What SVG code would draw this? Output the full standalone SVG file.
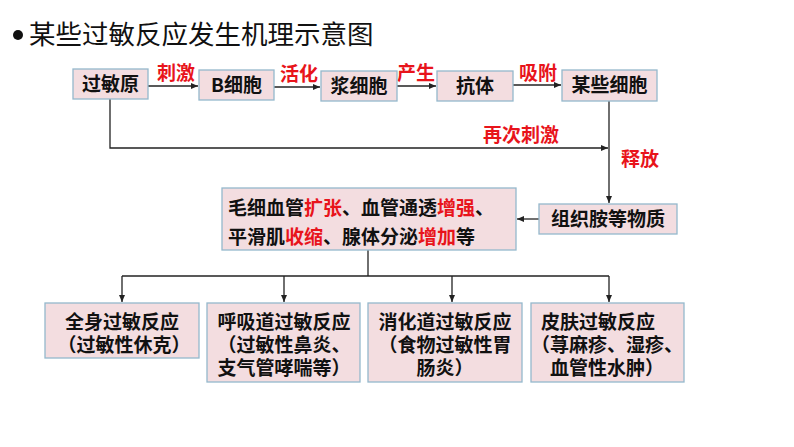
<svg xmlns="http://www.w3.org/2000/svg" width="794" height="447" viewBox="0 0 794 447">
<style>
.box{fill:#f3dde0;stroke:#94b8cc;stroke-width:1.3}
.t{font-family:"Noto Sans CJK SC","Noto Sans",sans-serif;font-weight:bold;font-size:19px;fill:#111}
.r{font-family:"Noto Sans CJK SC","Noto Sans",sans-serif;font-weight:bold;font-size:19px;fill:#e8141b}
.red{fill:#e8141b}
.ln{fill:none;stroke:#222;stroke-width:1.3}
</style>
<defs>
<marker id="ah" markerWidth="8" markerHeight="8" refX="7" refY="4" orient="auto" markerUnits="userSpaceOnUse">
<path d="M0,1 L7,4 L0,7 z" fill="#222"/>
</marker>
</defs>
<rect width="794" height="447" fill="#fff"/>
<g id="title">
<circle cx="18" cy="35" r="5" fill="#111"/>
<text x="29" y="44" font-family="'Noto Sans CJK SC',sans-serif" font-size="26.5" fill="#111">某些过敏反应发生机理示意图</text>
</g>
<g id="connectors">
<line class="ln" x1="148" y1="86" x2="198" y2="86" marker-end="url(#ah)"/>
<line class="ln" x1="274" y1="87" x2="320" y2="87" marker-end="url(#ah)"/>
<line class="ln" x1="397" y1="86" x2="436" y2="86" marker-end="url(#ah)"/>
<line class="ln" x1="513" y1="85" x2="561" y2="85" marker-end="url(#ah)"/>
<polyline class="ln" points="110,99 110,148 608,148" marker-end="url(#ah)"/>
<line class="ln" x1="609" y1="101" x2="609" y2="203" marker-end="url(#ah)"/>
<line class="ln" x1="539" y1="219" x2="517" y2="219" marker-end="url(#ah)"/>
<line class="ln" x1="368" y1="250" x2="368" y2="276"/>
<line class="ln" x1="122" y1="276" x2="609" y2="276"/>
<line class="ln" x1="122" y1="276" x2="122" y2="302" marker-end="url(#ah)"/>
<line class="ln" x1="284" y1="276" x2="284" y2="302" marker-end="url(#ah)"/>
<line class="ln" x1="452" y1="276" x2="452" y2="302" marker-end="url(#ah)"/>
<line class="ln" x1="609" y1="276" x2="609" y2="302" marker-end="url(#ah)"/>
<text class="r" x="157" y="80">刺激</text>
<text class="r" x="280" y="81">活化</text>
<text class="r" x="397" y="80">产生</text>
<text class="r" x="519" y="80">吸附</text>
<text class="r" x="483" y="142">再次刺激</text>
<text class="r" x="621" y="166">释放</text>
</g>
<g id="n1"><rect class="box" x="73" y="69" width="75" height="30"/><text class="t" x="110.5" y="91" text-anchor="middle">过敏原</text></g>
<g id="n2"><rect class="box" x="199" y="70" width="75" height="30"/><text class="t" x="236.5" y="92" text-anchor="middle">B细胞</text></g>
<g id="n3"><rect class="box" x="321" y="71" width="76" height="30"/><text class="t" x="359" y="93" text-anchor="middle">浆细胞</text></g>
<g id="n4"><rect class="box" x="437" y="71" width="76" height="30"/><text class="t" x="475" y="93" text-anchor="middle">抗体</text></g>
<g id="n5"><rect class="box" x="562" y="70" width="95" height="31"/><text class="t" x="609.5" y="92" text-anchor="middle">某些细胞</text></g>
<g id="n6"><rect class="box" x="539" y="204" width="138" height="30"/><text class="t" x="608" y="226" text-anchor="middle">组织胺等物质</text></g>
<g id="n7"><rect class="box" x="222" y="188" width="294" height="62"/>
<text class="t"><tspan x="228" y="215">毛细血管<tspan class="red">扩张</tspan>、血管通透<tspan class="red">增强</tspan>、</tspan><tspan x="228" y="244">平滑肌<tspan class="red">收缩</tspan>、腺体分泌<tspan class="red">增加</tspan>等</tspan></text>
</g>
<g id="n8"><rect class="box" x="45" y="303" width="154" height="55"/>
<text class="t" text-anchor="middle"><tspan x="122" y="329">全身过敏反应</tspan><tspan x="124" y="352">（过敏性休克）</tspan></text>
</g>
<g id="n9"><rect class="box" x="207" y="303" width="153" height="79"/>
<text class="t" text-anchor="middle"><tspan x="284" y="329">呼吸道过敏反应</tspan><tspan x="284" y="352">（过敏性鼻炎、</tspan><tspan x="284" y="375">支气管哮喘等）</tspan></text>
</g>
<g id="n10"><rect class="box" x="368" y="303" width="154" height="79"/>
<text class="t" text-anchor="middle"><tspan x="445" y="329">消化道过敏反应</tspan><tspan x="445" y="352">（食物过敏性胃</tspan><tspan x="445" y="375">肠炎）</tspan></text>
</g>
<g id="n11"><rect class="box" x="531" y="303" width="153" height="79"/>
<text class="t" text-anchor="middle"><tspan x="598" y="329">皮肤过敏反应</tspan><tspan x="607" y="352">（荨麻疹、湿疹、</tspan><tspan x="607" y="375">血管性水肿）</tspan></text>
</g>
</svg>
